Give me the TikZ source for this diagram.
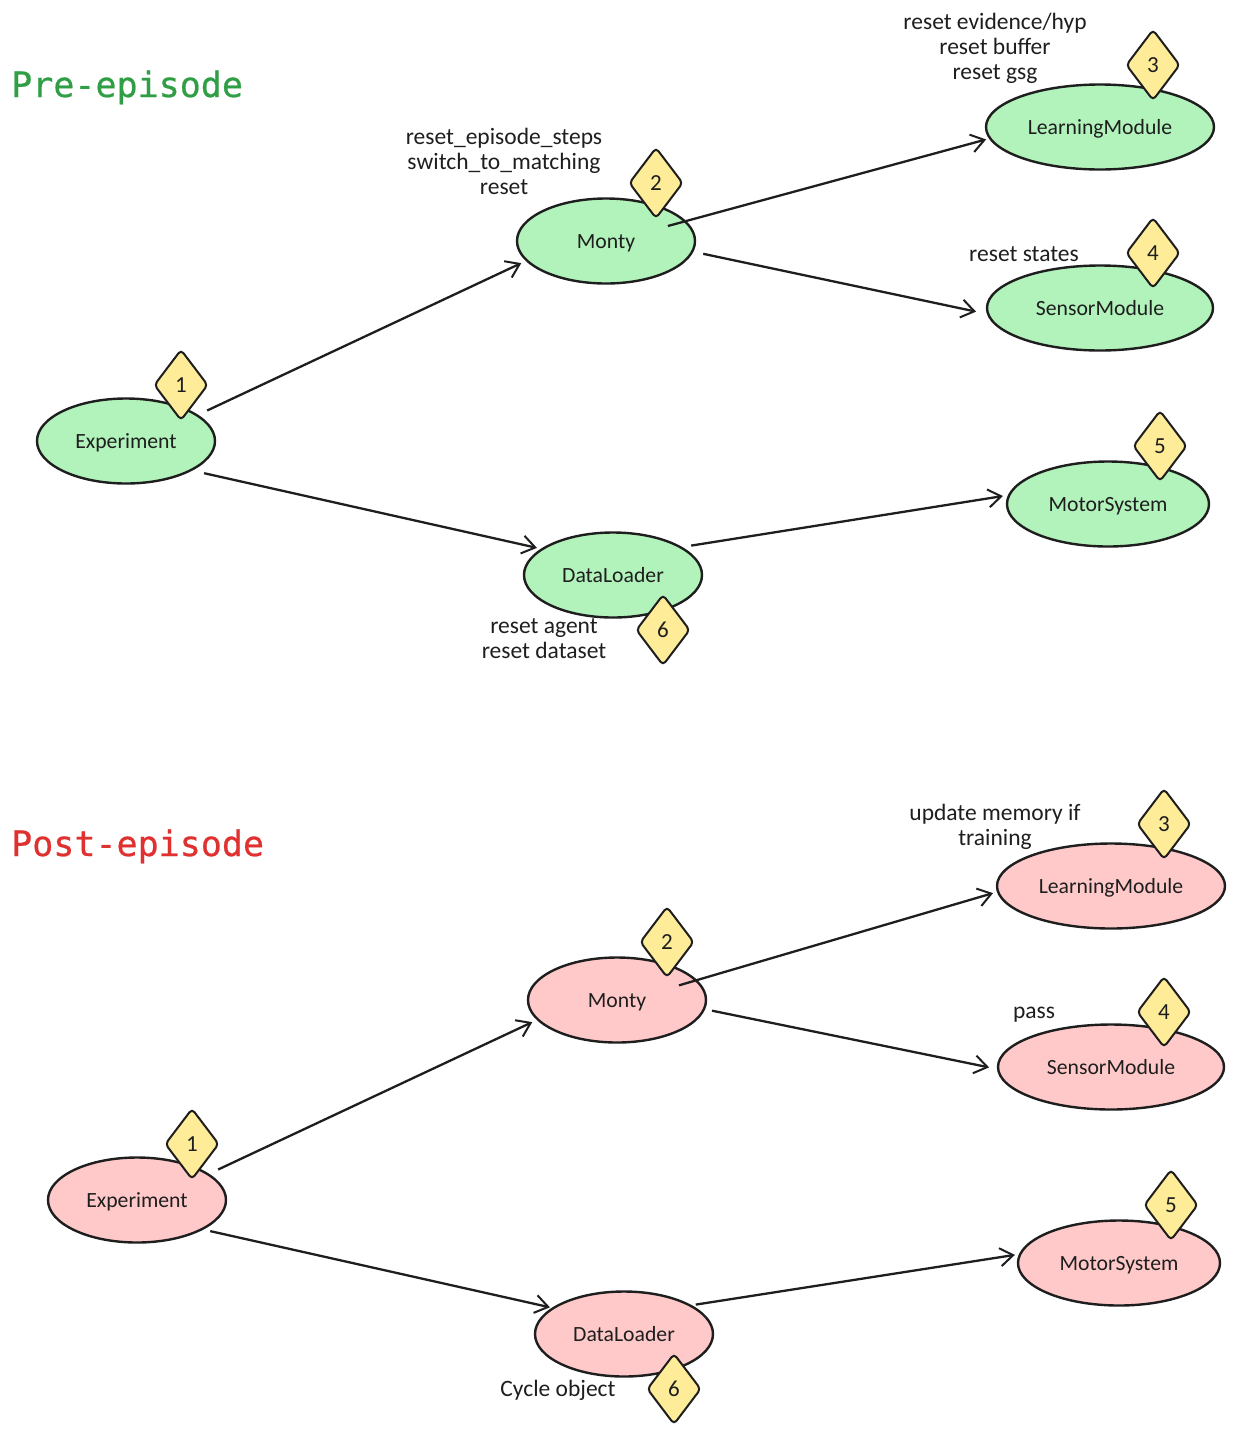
\documentclass[tikz,border=0pt]{standalone}
\usepackage{fontspec}
\setmainfont{Carlito}
\newfontfamily\titlefont[FakeBold=0.6]{DejaVu Sans Mono}
\usetikzlibrary{shapes.geometric,arrows.meta}
\definecolor{ink}{HTML}{1E1E1E}
\definecolor{okfill}{HTML}{B2F2BB}
\definecolor{badfill}{HTML}{FFC9C9}
\definecolor{numfill}{HTML}{FFEC99}
\definecolor{okhead}{HTML}{2F9E44}
\definecolor{badhead}{HTML}{E03131}
\tikzset{
  ell/.style={ellipse,draw=ink,line width=2.4pt,inner sep=0pt,minimum height=85pt,text=ink,text height=14pt,text depth=0pt,font=\fontsize{21.7}{25}\selectfont},
  diam/.style={diamond,draw=ink,line width=2pt,fill=numfill,inner sep=0pt,minimum width=54pt,minimum height=71pt,rounded corners=4pt,text=ink,font=\fontsize{23}{25}\selectfont},
  lab/.style={align=center,inner sep=0pt,text=ink,font=\fontsize{23.5}{25}\selectfont},
  conn/.style={draw=ink,line width=2.3pt,-{Straight Barb[length=13pt,width=18pt,line width=2pt]}},
  ttl/.style={anchor=base west,inner sep=0pt,font=\titlefont\fontsize{35}{35}\selectfont}
}
\newcommand{\drawpanel}[2]{%
  \node[ell,fill=#2,minimum width=178pt] (#1e) at (126,441) {Experiment};
  \node[ell,fill=#2,minimum width=178pt] (#1m) at (606,241) {Monty};
  \node[ell,fill=#2,minimum width=228pt] (#1l) at (1100,127) {LearningModule};
  \node[ell,fill=#2,minimum width=226pt] (#1s) at (1100,308) {SensorModule};
  \node[ell,fill=#2,minimum width=202pt] (#1o) at (1108,504) {MotorSystem};
  \node[ell,fill=#2,minimum width=178pt] (#1d) at (613,575) {DataLoader};
  \node[diam] (#1n1) at (181,385) {1};
  \node[diam] (#1n2) at (656,183) {2};
  \node[diam] (#1n3) at (1153,65) {3};
  \node[diam] (#1n4) at (1153,253) {4};
  \node[diam] (#1n5) at (1160,446) {5};
  \node[diam] (#1n6) at (663,630) {6};
}
\begin{document}
\begin{tikzpicture}[x=1pt,y=-1pt]
\useasboundingbox (0,0) rectangle (1233,1433);
\drawpanel{a}{okfill}
\node[ttl,text=okhead] (pretitle) at (11,97) {Pre-episode};
\node[lab] (la3) at (995,48) {reset evidence/hyp\\reset buffer\\reset gsg};
\node[lab] (la2) at (504,161) {reset\_episode\_steps\\switch\_to\_matching\\reset};
\node[lab] (la4) at (1024,254) {reset states};
\node[lab] (la6) at (544,639) {reset agent\\reset dataset};
\draw[conn,shorten <=10pt,shorten >=5pt] (ae.20) -- (am.194);
\draw[conn,shorten <=12pt,shorten >=4pt] (ae.-24) -- (ad.160);
\draw[conn,shorten <=-19pt,shorten >=3pt] (am.14) -- (al.186.6);
\draw[conn,shorten <=10pt,shorten >=11pt] (am.-7) -- (as.183.7);
\draw[conn,shorten <=9pt,shorten >=5pt] (ad.22) -- (ao.175.6);
\begin{scope}[shift={(11,759)}]
\drawpanel{b}{badfill}
\end{scope}
\node[ttl,text=badhead] (posttitle) at (11,856) {Post-episode};
\node[lab] (lb3) at (995,827) {update memory if\\training};
\node[lab] (lb4) at (1034,1015) {pass};
\node[lab] (lb6) at (558,1390) {Cycle object};
\draw[conn,shorten <=10pt,shorten >=5pt] (be.20) -- (bm.194);
\draw[conn,shorten <=7pt,shorten >=2pt] (be.-24) -- (bd.160);
\draw[conn,shorten <=-19pt,shorten >=4pt] (bm.14) -- (bl.183.4);
\draw[conn,shorten <=7pt,shorten >=8pt] (bm.-6) -- (bs.181.4);
\draw[conn,shorten <=4pt,shorten >=4pt] (bd.23) -- (bo.175);
\end{tikzpicture}
\end{document}
